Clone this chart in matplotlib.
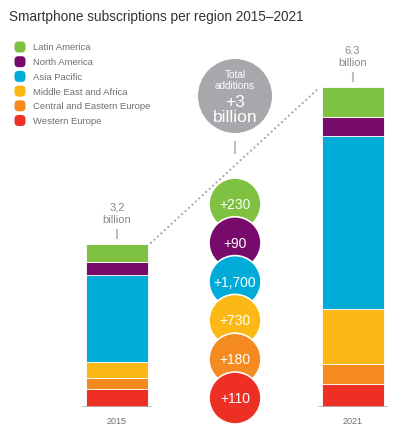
import matplotlib.pyplot as plt
from matplotlib.patches import Circle, FancyBboxPatch

plt.rcParams['font.family'] = ['Liberation Sans', 'DejaVu Sans']

regions = ["Latin America", "North America", "Asia Pacific",
           "Middle East and Africa", "Central and Eastern Europe", "Western Europe"]
colors = ["#7fc241", "#760b6b", "#00abd8", "#fcb814", "#f58a20", "#ee3024"]

years = ["2015", "2021"]
totals_label = ["3,2", "6.3"]
# millions of subscriptions, stacked top (Latin America) to bottom (Western Europe)
subs_2015 = [350, 270, 1690, 330, 210, 350]
subs_2021 = [580, 370, 3390, 1090, 380, 460]
additions = ["+230", "+90", "+1,700", "+730", "+180", "+110"]

W, H = 393, 431
fig = plt.figure(figsize=(W / 100, H / 100), dpi=100)

# bars axes: x in pixels, y in millions
scale = 0.051  # px per million
base_px = 408
ymax = 6600
bax = fig.add_axes([0, (H - base_px) / H, 1, ymax * scale / H])
bax.set_xlim(0, W)
bax.set_ylim(0, ymax)
bax.axis("off")

bar_x = [117, 352.5]
bar_w = 62
grey = "#8a8a8a"

for xi, vals, yr, lab in zip(bar_x, [subs_2015, subs_2021], years, totals_label):
    bottom = 0
    for v, c in zip(vals[::-1], colors[::-1]):
        bax.bar(xi, v, width=bar_w, bottom=bottom, color=c, edgecolor="white",
                linewidth=0.6)
        bottom += v
    bax.plot([xi - bar_w / 2 - 3, xi + bar_w / 2 + 3], [0, 0], color="#b5b5b5", lw=1.2)
    bax.annotate(yr, (xi, 0), xytext=(0, -14), textcoords="offset pixels",
                 ha="center", va="center", fontsize=6.5, color="#707070")
    bax.annotate(lab, (xi, bottom), xytext=(0, 37), textcoords="offset pixels",
                 ha="center", va="center", fontsize=8, color=grey)
    bax.annotate("billion", (xi, bottom), xytext=(0, 25), textcoords="offset pixels",
                 ha="center", va="center", fontsize=8, color=grey)
    bax.plot([xi, xi], [bottom + 6 / scale, bottom + 14 / scale], color="#c0c0c0", lw=1.5)

# dotted connector
t0, t1 = sum(subs_2015), sum(subs_2021)
bax.plot([bar_x[0] + bar_w / 2 + 3, bar_x[1] - bar_w / 2 - 5],
         [t0 + 1 / scale, t1 - 3 / scale], color="#a5a5a5", lw=1.6,
         linestyle=(0, (0.01, 2.1)), dash_capstyle="round")

# overlay axes in pixel coordinates
ax = fig.add_axes([0, 0, 1, 1])
ax.set_xlim(0, W)
ax.set_ylim(H, 0)
ax.axis("off")
ax.patch.set_alpha(0)

ax.text(9, 17, "Smartphone subscriptions per region 2015\u20132021", fontsize=9.8,
        color="#333333", va="center", ha="left")

# legend
for i, (r, c) in enumerate(zip(regions, colors)):
    y = 48 + i * 14.7
    ax.add_patch(FancyBboxPatch((14.5, y - 5.5), 11, 11,
                                boxstyle="round,pad=0,rounding_size=4",
                                facecolor=c, edgecolor="none"))
    ax.text(33, y, r, fontsize=6.8, color="#6e6e6e", va="center", ha="left")

# total additions circle
cx = 235
ax.add_patch(Circle((cx, 97), 37, facecolor="#a6a8ab", edgecolor="none"))
ax.text(cx, 75, "Total", fontsize=7.2, color="white", ha="center", va="center")
ax.text(cx, 86, "additions", fontsize=7.2, color="white", ha="center", va="center")
ax.text(cx, 103, "+3", fontsize=12.5, color="white", ha="center", va="center")
ax.text(cx, 118, "billion", fontsize=12.5, color="white", ha="center", va="center")
ax.plot([cx, cx], [143, 154], color="#c0c0c0", lw=1.5)

# addition circles
for i, (a, c) in enumerate(zip(additions, colors)):
    y = 205 + i * 38.8
    ax.add_patch(Circle((cx, y), 26, facecolor=c, edgecolor="white", lw=1.2, zorder=3 + i))
    ax.text(cx, y, a, fontsize=10, color="white", ha="center", va="center", zorder=3 + i)

fig.savefig("out.png", dpi=100)
